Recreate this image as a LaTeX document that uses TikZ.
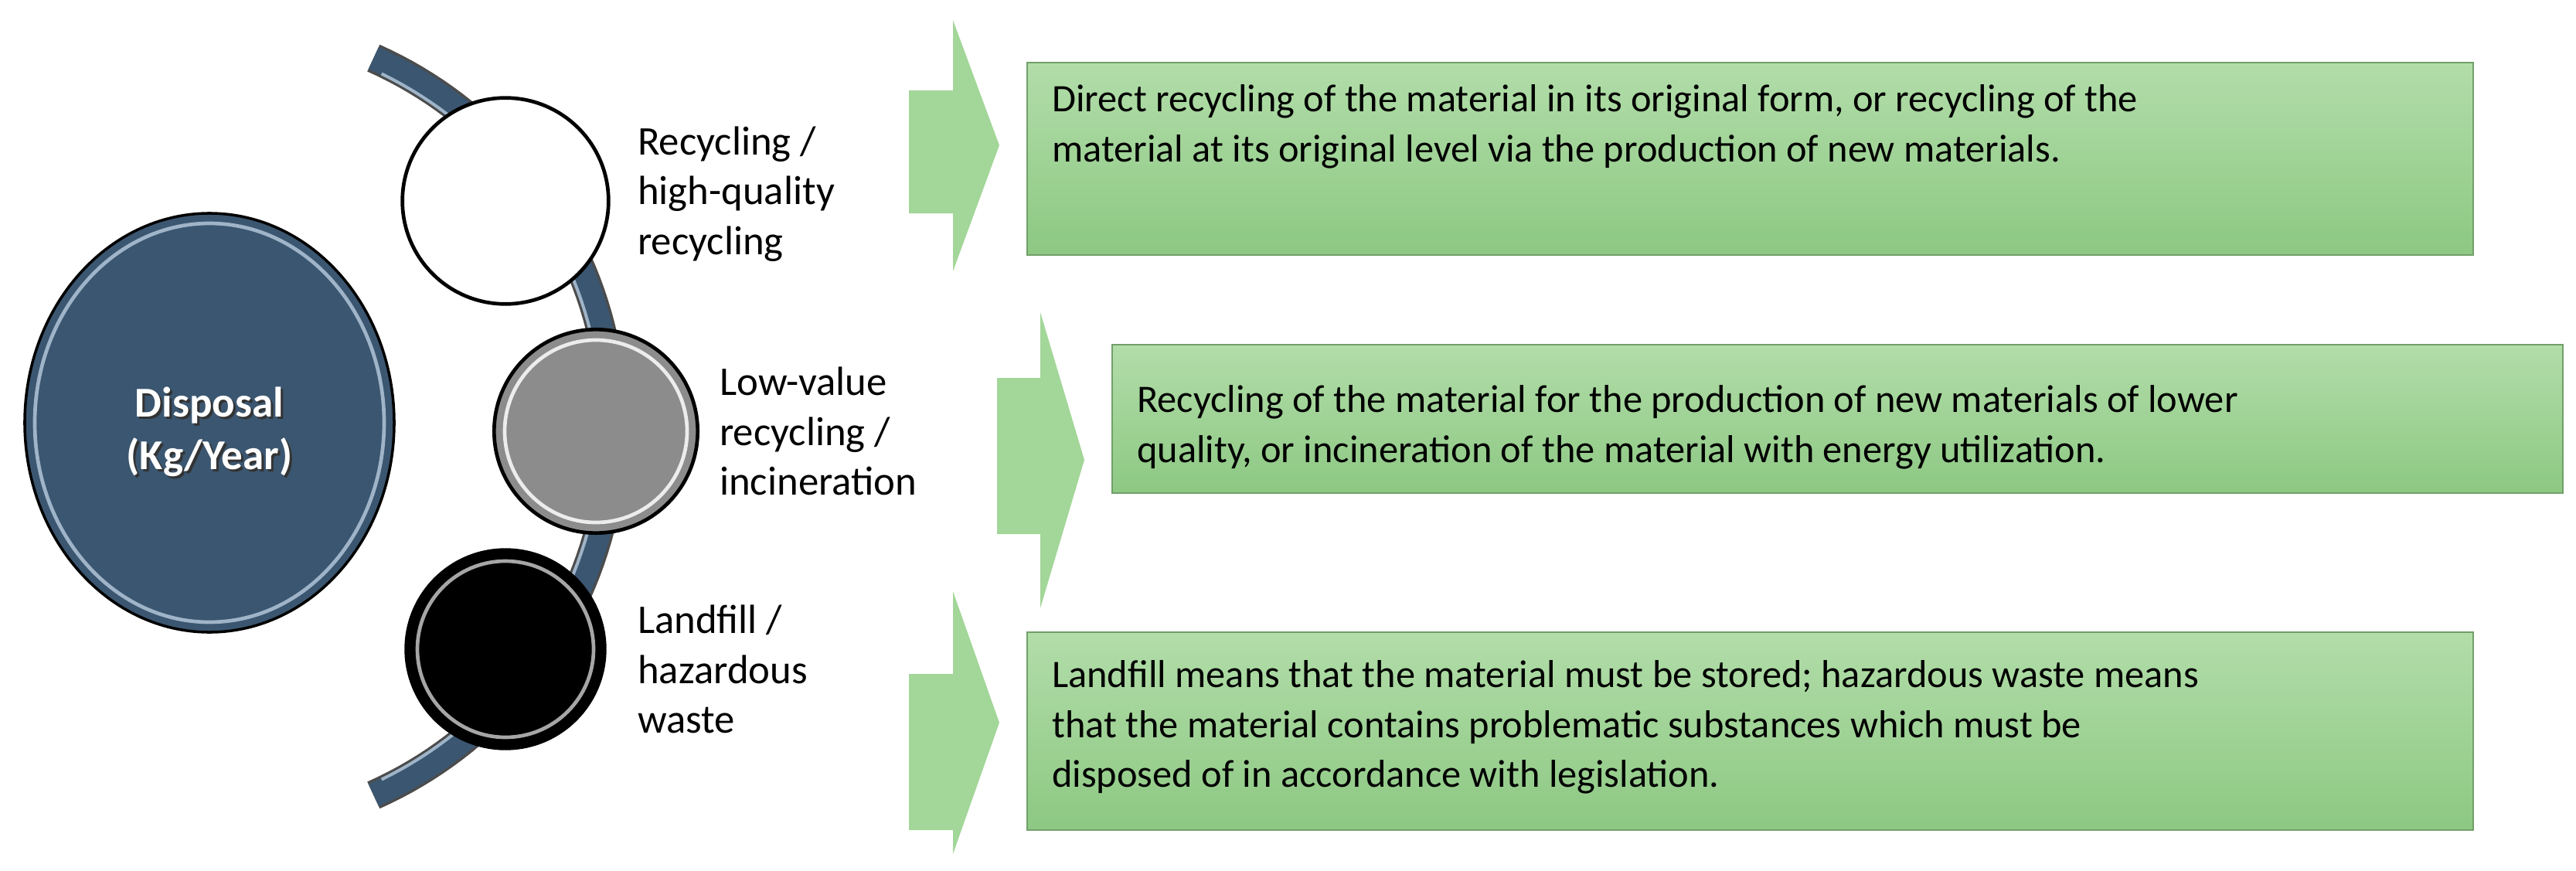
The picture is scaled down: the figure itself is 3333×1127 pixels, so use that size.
\documentclass[tikz,border=0pt]{standalone}
\usepackage{fontspec}
\setmainfont{Carlito}
\usetikzlibrary{shapes.geometric}
\definecolor{dblue}{HTML}{3B5670}
\definecolor{lblue}{HTML}{9FB4C8}
\definecolor{gtop}{HTML}{B2DDA9}
\definecolor{gbot}{HTML}{8DC883}
\definecolor{gchev}{HTML}{A3D699}
\tikzset{
  lab/.style={anchor=west,inner sep=0pt,align=left,font=\fontsize{45}{55}\selectfont},
  boxtxt/.style={anchor=west,inner sep=0pt,align=left,font=\fontsize{43}{55}\selectfont},
  gbox/.style={draw=gbot!80!black,line width=1pt,top color=gtop,bottom color=gbot},
  chev/.style={fill=gchev,draw=none},
  bub/.style={circle,draw=black,line width=4pt,minimum size=8cm,inner sep=0pt}
}
\begin{document}
\begin{tikzpicture}[x=0.03cm,y=-0.03cm]
\useasboundingbox (0,0) rectangle (3333,1127);
% arc band
\draw[line width=1.15cm,black!70] plot[domain=-66:66,samples=80] ({271+522*cos(\x)},{552+522*sin(\x)});
\draw[line width=0.95cm,dblue] plot[domain=-66:66,samples=80] ({271+522*cos(\x)},{552+522*sin(\x)});
\draw[line width=0.12cm,lblue] plot[domain=-64:64,samples=80] ({271+508*cos(\x)},{552+508*sin(\x)});
% big circle
\node[ellipse,draw=black,line width=3pt,fill=dblue,minimum width=14.34cm,minimum height=16.26cm] (disp) at (271,547) {};
\draw[lblue,line width=4pt] (271,547) ellipse [x radius=226, y radius=258];
\node[text=black!80,font=\bfseries\fontsize{47}{58}\selectfont,align=center] at (274,562) {Disposal\\(Kg/Year)};
\node[text=white,font=\bfseries\fontsize{47}{58}\selectfont,align=center] (disptxt) at (271,559) {Disposal\\(Kg/Year)};
% small circles
\node[bub,fill=white] (c1) at (654,260) {};
\node[bub,fill=black!45,minimum size=7.9cm] (c2) at (771,558) {};
\draw[white!85!gray,line width=4pt] (771,558) circle [radius=118];
\node[bub,fill=black,minimum size=7.7cm] (c3) at (654,840) {};
\draw[gray!70,line width=4pt] (654,840) circle [radius=114];
% labels
\node[lab] (l1) at (825,251) {Recycling /\\high-quality\\recycling};
\node[lab] (l2) at (931,558) {Low-value\\recycling /\\incineration};
\node[lab] (l3) at (825,866) {Landfill /\\hazardous\\waste};
% chevrons
\fill[chev] (1176,117) -- (1233,117) -- (1233,26) -- (1293,188) -- (1233,351) -- (1233,276) -- (1176,276) -- cycle;
\fill[chev] (1290,489) -- (1346,489) -- (1346,404) -- (1403,595) -- (1346,787) -- (1346,691) -- (1290,691) -- cycle;
\fill[chev] (1176,872) -- (1233,872) -- (1233,765) -- (1293,935) -- (1233,1105) -- (1233,1074) -- (1176,1074) -- cycle;
% boxes
\path[gbox] (1329,81) rectangle (3200,330);
\path[gbox] (1439,446) rectangle (3316,638);
\path[gbox] (1329,818) rectangle (3200,1074);
\node[boxtxt] (t1) at (1361,164) {Direct recycling of the material in its original form, or recycling of the\\material at its original level via the production of new materials.};
\node[boxtxt] (t2) at (1471,553) {Recycling of the material for the production of new materials of lower\\quality, or incineration of the material with energy utilization.};
\node[boxtxt] (t3) at (1361,941) {Landfill means that the material must be stored; hazardous waste means\\that the material contains problematic substances which must be\\disposed of in accordance with legislation.};
\end{tikzpicture}
\end{document}
